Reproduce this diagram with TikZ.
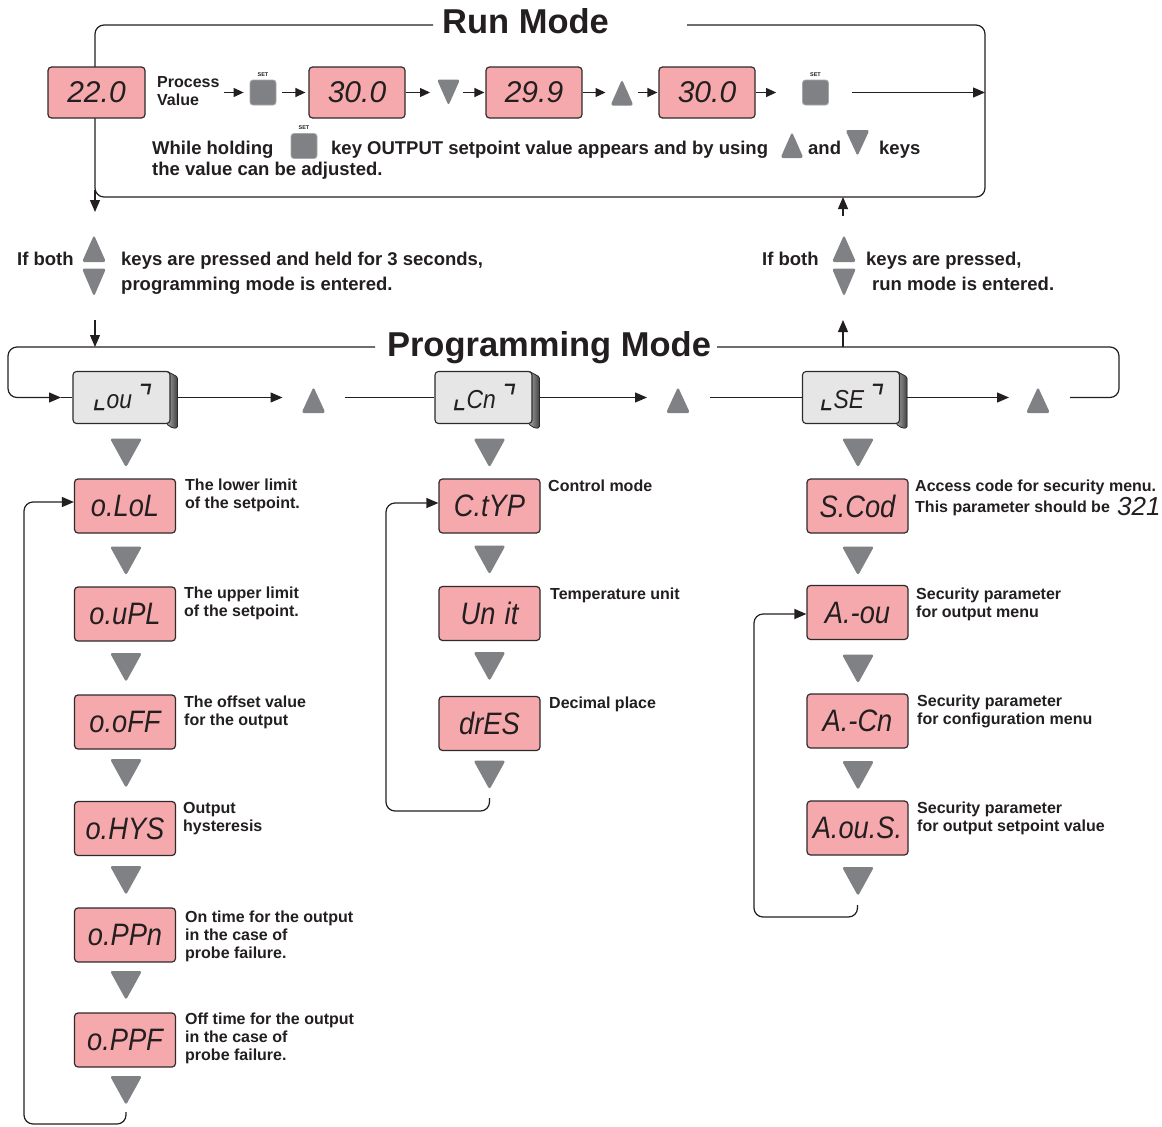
\documentclass[tikz,border=0pt]{standalone}
\usepackage{fontspec}
\setmainfont{Liberation Sans}
\newfontfamily\segfont{Liberation Sans}[FakeStretch=0.88]
\newfontfamily\segwide{Liberation Sans}
\newfontfamily\cornerfont{DejaVu Sans}
\usetikzlibrary{arrows.meta,calc,backgrounds}
\definecolor{pinkfill}{HTML}{F6A9AC}
\definecolor{edge}{HTML}{2E2A2B}
\definecolor{keygrey}{HTML}{808184}
\definecolor{faceg}{HTML}{E6E6E7}
\definecolor{ink}{HTML}{231F20}
\newcommand\dnkey[4]{%
  \node[keyarea,minimum width=#3pt,minimum height=#4pt] (#1) at (#2) {};
  \fill[keygrey,rounded corners=2.5pt] (#1.north west) -- (#1.north east) -- (#1.south) -- cycle;}
\newcommand\upkey[4]{%
  \node[keyarea,minimum width=#3pt,minimum height=#4pt] (#1) at (#2) {};
  \fill[keygrey,rounded corners=2.5pt] (#1.south west) -- (#1.south east) -- (#1.north) -- cycle;}
\newcommand\menubox[3]{%
  \node[gbox] (#1) at (#2) {#3};
  \begin{scope}[on background layer]
    \filldraw[draw=edge, line width=0.8pt, left color=gray!65, right color=gray!50!black, rounded corners=1.5pt]
      ($(#1.north east)+(-4,0)$) -- ($(#1.north east)+(7,6)$) -- ($(#1.south east)+(7,4)$)
      -- ($(#1.south east)+(2,4)$) -- ($(#1.south east)+(-4,0)$) -- cycle;
  \end{scope}}
\newcommand\cor[1]{{\cornerfont\itshape\fontsize{32}{32}\selectfont #1}}
\begin{document}
\begin{tikzpicture}[x=1pt,y=-1pt,
  every node/.style={text=ink},
  ln/.style={draw=ink, line width=1.2pt},
  arr/.style={ln, -{Triangle[length=10pt,width=9pt]}},
  arrb/.style={ln, -{Triangle[length=12pt,width=10pt]}},
  disp/.style={draw=edge, line width=1.2pt, fill=pinkfill, rounded corners=3.5pt, minimum width=101pt, minimum height=54pt, inner sep=0pt, font=\segfont\itshape\fontsize{31}{31}\selectfont},
  rundisp/.style={disp, minimum width=97pt, minimum height=51pt, font=\segwide\itshape\fontsize{30}{30}\selectfont},
  gbox/.style={draw=edge, line width=1.1pt, fill=faceg, rounded corners=3.5pt, minimum width=97pt, minimum height=52pt, inner sep=0pt, font=\segfont\itshape\fontsize{26}{26}\selectfont},
  keyarea/.style={inner sep=0pt, outer sep=0pt},
  setkey/.style={fill=keygrey, draw=keygrey!70, line width=0.8pt, rounded corners=3pt, minimum width=26pt, minimum height=25pt, inner sep=0pt},
  setlbl/.style={font=\bfseries\fontsize{5.5}{6}\selectfont, inner sep=0pt, label distance=3pt},
  modetitle/.style={font=\bfseries\fontsize{34.5}{38}\selectfont, inner sep=0pt},
  body/.style={font=\bfseries\fontsize{18.5}{21}\selectfont, inner sep=0pt, anchor=north west, align=left},
  note/.style={font=\bfseries\fontsize{16}{18}\selectfont, inner sep=0pt, anchor=north west, align=left},
]
\useasboundingbox (0,0) rectangle (1162,1127);
\begin{scope}[on background layer]
  \fill[white] (0,0) rectangle (1162,1127);
\end{scope}

% ---------------- Run Mode frame ----------------
\draw[ln, rounded corners=9pt] (433,25) -- (95,25) -- (95,197) -- (985,197) -- (985,25) -- (687,25);
\node[modetitle, anchor=base] (runT) at (525.5,33) {Run Mode};

% run row
\node[rundisp] (d0) at (96.5,92.5) {22.0};
\node[note] (pv) at (157,76.5) {Process\\Value};
\node[setkey,label={[setlbl]above:SET}] (s1) at (263,92.5) {};
\node[rundisp, minimum width=96pt] (d1) at (357,92.5) {30.0};
\dnkey{k1}{448.5,92.5}{23}{26}
\node[rundisp, minimum width=96pt] (d2) at (534,92.5) {29.9};
\upkey{k2}{622,92.5}{23}{26}
\node[rundisp, minimum width=96pt] (d3) at (707,92.5) {30.0};
\node[setkey,label={[setlbl]above:SET}] (s2) at (815.5,92.5) {};
\coordinate (rE) at (985,92.5);

\draw[arr, shorten <=4pt, shorten >=6pt] (pv.east |- s1.west) -- (s1.west);
\draw[arr, shorten <=6pt, shorten >=3pt] (s1) -- (d1);
\draw[arr, shorten >=7pt] (d1) -- (k1);
\draw[arr, shorten <=3pt, shorten >=1pt] (k1) -- (d2);
\draw[arr, shorten >=5pt] (d2) -- (k2);
\draw[arr, shorten <=4pt, shorten >=1pt] (k2) -- (d3);
\draw[arr, shorten >=26pt] (d3) -- (s2);
\draw[arrb, shorten <=23pt] (s2) -- (rE);

% explanation
\node[body] (w1) at (152,141) {While holding};
\node[setkey, label={[setlbl]above:SET}] (s3) at (304,146) {};
\node[body] (w2) at (331,141) {key OUTPUT setpoint value appears and by using};
\upkey{k3}{792,145}{23}{26}
\node[body] (w3) at (808,141) {and};
\dnkey{k4}{857.5,143}{24}{26}
\node[body] (w4) at (879,141) {keys};
\node[body] (w5) at (152,162) {the value can be adjusted.};

% ---------------- transitions ----------------
\coordinate (a1s) at (95,190); \coordinate (a1e) at (95,212);
\draw[arrb] (a1s) -- (a1e);
\node[body] (ib1) at (17,251.5) {If both};
\upkey{k5}{94,248.5}{24}{27}
\dnkey{k6}{94,282.5}{24}{28}
\node[body] (ib2) at (121,251.5) {keys are pressed and held for 3 seconds,};
\node[body] (ib3) at (121,276.5) {programming mode is entered.};
\coordinate (a2s) at (95,320); \coordinate (a2e) at (95,347);
\draw[arrb] (a2s) -- (a2e);

\coordinate (a3s) at (843,347); \coordinate (a3e) at (843,320);
\draw[arrb] (a3s) -- (a3e);
\coordinate (a4s) at (843,216); \coordinate (a4e) at (843,197);
\draw[arrb] (a4s) -- (a4e);
\node[body] (ib4) at (762,251.5) {If both};
\upkey{k7}{844,248.5}{24}{27}
\dnkey{k8}{844,282.5}{24}{28}
\node[body] (ib5) at (866,251.5) {keys are pressed,};
\node[body] (ib6) at (872,276.5) {run mode is entered.};

% ---------------- Programming Mode ----------------
\node[modetitle, anchor=base] (progT) at (549,356) {Programming Mode};
\menubox{b1}{121.5,397.5}{\cor{⌞}ou\,\cor{⌝}}
\menubox{b2}{483.5,397.5}{\cor{⌞}Cn\,\cor{⌝}}
\menubox{b3}{851,397.5}{\cor{⌞}SE\,\cor{⌝}}
\upkey{u1}{313.5,400}{24}{26}
\upkey{u2}{678,400}{24}{26}
\upkey{u3}{1038,400}{24}{26}
\coordinate (pin) at (61,397.5);
\draw[arrb, rounded corners=9pt] (375,347) -- (8,347) -- (8,397.5) -- (pin);
\draw[ln] (pin) -- (b1.west);
\draw[arrb, shorten >=19pt] ([xshift=7pt]b1.east) -- (b1.east -| u1.west);
\draw[ln, shorten <=19pt] (b2.west -| u1.east) -- (b2.west);
\draw[arrb, shorten >=19pt] ([xshift=7pt]b2.east) -- (b2.east -| u2.west);
\draw[ln, shorten <=20pt] (b3.west -| u2.east) -- (b3.west);
\draw[arrb, shorten >=17pt] ([xshift=7pt]b3.east) -- (b3.east -| u3.west);
\coordinate (pout) at (1070,397.5);
\draw[ln, rounded corners=9pt] (pout) -- (1119,397.5) -- (1119,347) -- (717,347);

% ---------------- column 1 ----------------
\dnkey{c1k0}{126,453}{32}{29}
\node[disp] (o1) at (125,506) {o.LoL};
\node[note] (n1) at (185,479) {The lower limit\\of the setpoint.};
\dnkey{c1k1}{126,561}{32}{29}
\node[disp] (o2) at (125,614) {o.uPL};
\node[note] (n2) at (184,587) {The upper limit\\of the setpoint.};
\dnkey{c1k2}{126,667.5}{32}{29}
\node[disp] (o3) at (125,722) {o.oFF};
\node[note] (n3) at (184,696) {The offset value\\for the output};
\dnkey{c1k3}{126,773.5}{32}{29}
\node[disp] (o4) at (125,828.5) {o.HYS};
\node[note] (n4) at (183,802) {Output\\hysteresis};
\dnkey{c1k4}{126,880.5}{32}{29}
\node[disp] (o5) at (125,935) {o.PPn};
\node[note] (n5) at (185,911) {On time for the output\\in the case of\\probe failure.};
\dnkey{c1k5}{126,985.5}{32}{29}
\node[disp] (o6) at (125,1040) {o.PPF};
\node[note] (n6) at (185,1013) {Off time for the output\\in the case of\\probe failure.};
\dnkey{c1k6}{126,1090.5}{32}{29}
\coordinate (c1s) at (126,1112);
\draw[arrb, rounded corners=9pt] (c1s) -- (126,1124) -- (24,1124) -- (24,502) -- (o1.west |- 0,502);

% ---------------- column 2 ----------------
\dnkey{c2k0}{489.5,453}{32}{29}
\node[disp] (p1) at (489.5,506) {C.tYP};
\node[note] (m1) at (548,480) {Control mode};
\dnkey{c2k1}{489.5,560}{32}{29}
\node[disp] (p2) at (489.5,613.5) {Un\hspace{0.3em}it};
\node[note] (m2) at (550,588) {Temperature unit};
\dnkey{c2k2}{489.5,666.5}{32}{29}
\node[disp] (p3) at (489.5,723.5) {drES};
\node[note] (m3) at (549,697) {Decimal place};
\dnkey{c2k3}{489.5,775}{32}{29}
\coordinate (c2s) at (489.5,798);
\draw[arrb, rounded corners=9pt] (c2s) -- (489.5,811) -- (386,811) -- (386,503) -- (p1.west |- 0,503);

% ---------------- column 3 ----------------
\dnkey{c3k0}{858,453}{32}{29}
\node[disp] (q1) at (857.5,506) {S.Cod};
\node[note] (r1) at (915,480) {Access code for security menu.};
\node[note] (r1b) at (915,501) {This parameter should be};
\node[anchor=west, inner sep=0pt, font=\segwide\itshape\fontsize{26}{26}\selectfont] (code) at (1117,507) {321};
\dnkey{c3k1}{858,561}{32}{29}
\node[disp] (q2) at (857.5,612.5) {A.-ou};
\node[note] (r2) at (916,588) {Security parameter\\for output menu};
\dnkey{c3k2}{858,669}{32}{29}
\node[disp] (q3) at (857.5,721) {A.-Cn};
\node[note] (r3) at (917,695) {Security parameter\\for configuration menu};
\dnkey{c3k3}{858,775.5}{32}{29}
\node[disp] (q4) at (857.5,828) {A.ou.S.};
\node[note] (r4) at (917,802) {Security parameter\\for output setpoint value};
\dnkey{c3k4}{858,881.5}{32}{29}
\coordinate (c3s) at (857.5,905);
\draw[arrb, rounded corners=9pt] (c3s) -- (857.5,917) -- (754,917) -- (754,614) -- (q2.west |- 0,614);
\end{tikzpicture}
\end{document}
